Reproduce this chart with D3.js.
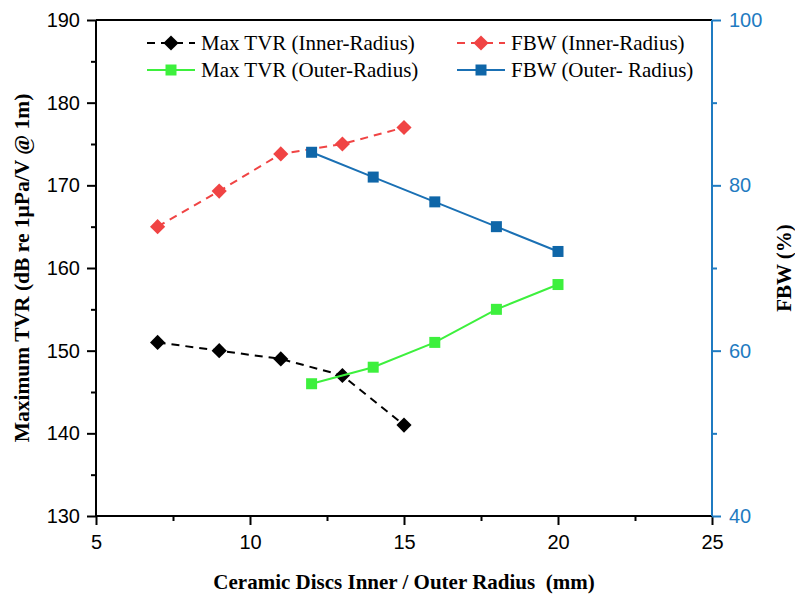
<!DOCTYPE html>
<html>
<head>
<meta charset="utf-8">
<script src="https://cdn.jsdelivr.net/npm/d3@7"></script>
<style>
    body { margin: 0; background: #fff; }
    svg { display: block; }
</style>
</head>
<body>
<svg id="chart"></svg>
<script>
// data
const innerRadius = [7, 9, 11, 13, 15];
const tvrInner = [151, 150, 149, 147, 141];
const fbwInner = [75, 79.3, 83.8, 85, 87];
const outerRadius = [12, 14, 16, 18, 20];
const tvrOuter = [146, 148, 151, 155, 158];
const fbwOuter = [84, 81, 78, 75, 72];

const xTicks = [5, 10, 15, 20, 25];
const yTicks = [130, 140, 150, 160, 170, 180, 190];
const fbwTicks = [40, 60, 80, 100];

const W = 795, H = 598;
const margin = { top: 20, right: 83, bottom: 82, left: 96 };
const width = W - margin.left - margin.right;
const height = H - margin.top - margin.bottom;

const BLUE_AXIS = '#1f7bc1';

const svg = d3.select('#chart').attr('width', W).attr('height', H);
const g = svg.append('g').attr('transform', `translate(${margin.left},${margin.top})`);

const x = d3.scaleLinear().domain([5, 25]).range([0, width]);
const y = d3.scaleLinear().domain([130, 190]).range([height, 0]);
const y2 = d3.scaleLinear().domain([40, 100]).range([height, 0]);

const sans = '"Liberation Sans", Arial, sans-serif';
const serif = '"Liberation Serif", "Times New Roman", serif';

// top frame line
g.append('line')
    .attr('x1', 0).attr('x2', width)
    .attr('y1', 0).attr('y2', 0)
    .attr('stroke', '#000').attr('stroke-width', 2);

function styleAxis(sel, color) {
    sel.select('.domain').remove();
    sel.selectAll('line').attr('stroke', color).attr('stroke-width', 2);
    sel.selectAll('text')
        .attr('fill', color)
        .style('font-family', sans)
        .style('font-size', '20px');
}

// minor ticks
const xMinor = g.append('g').attr('transform', `translate(0,${height})`)
    .call(d3.axisBottom(x).tickValues([7.5, 12.5, 17.5, 22.5]).tickSize(5).tickFormat(''));
styleAxis(xMinor, '#000');
const yMinor = g.append('g')
    .call(d3.axisLeft(y).tickValues([135, 145, 155, 165, 175, 185]).tickSize(5).tickFormat(''));
styleAxis(yMinor, '#000');
const y2Minor = g.append('g').attr('transform', `translate(${width},0)`)
    .call(d3.axisRight(y2).tickValues([50, 70, 90]).tickSize(5).tickFormat(''));
styleAxis(y2Minor, BLUE_AXIS);

// major ticks
const xAxis = g.append('g').attr('transform', `translate(0,${height})`)
    .call(d3.axisBottom(x).tickValues(xTicks).tickSize(9).tickPadding(10));
styleAxis(xAxis, '#000');
const yAxis = g.append('g')
    .call(d3.axisLeft(y).tickValues(yTicks).tickSize(9).tickPadding(7));
styleAxis(yAxis, '#000');
const y2Axis = g.append('g').attr('transform', `translate(${width},0)`)
    .call(d3.axisRight(y2).tickValues(fbwTicks).tickSize(9).tickPadding(8));
styleAxis(y2Axis, BLUE_AXIS);

// spines
g.append('line').attr('x1', 0).attr('x2', width).attr('y1', height).attr('y2', height)
    .attr('stroke', '#000').attr('stroke-width', 2);
g.append('line').attr('x1', 0).attr('x2', 0).attr('y1', 0).attr('y2', height)
    .attr('stroke', '#000').attr('stroke-width', 2);
g.append('line').attr('x1', width).attr('x2', width).attr('y1', 0).attr('y2', height)
    .attr('stroke', BLUE_AXIS).attr('stroke-width', 2);

const series = [
    { name: 'Max TVR (Inner-Radius)', xs: innerRadius, ys: tvrInner, scale: y,
      color: '#000000', line: '#000000', dash: '8,6', diamond: true },
    { name: 'FBW (Inner-Radius)', xs: innerRadius, ys: fbwInner, scale: y2,
      color: '#f04444', line: '#f04444', dash: '8,6', diamond: true },
    { name: 'Max TVR (Outer-Radius)', xs: outerRadius, ys: tvrOuter, scale: y,
      color: '#3df03d', line: '#3df03d', dash: null, diamond: false },
    { name: 'FBW (Outer- Radius)', xs: outerRadius, ys: fbwOuter, scale: y2,
      color: '#0f66a8', line: '#1a70b4', dash: null, diamond: false },
];

// diamonds are squares turned 45 degrees
const squarePath = d3.symbol().type(d3.symbolSquare).size(121)();
const diamondPath = d3.symbol().type(d3.symbolSquare).size(115)();
const markerTransform = (s, px, py) =>
    `translate(${px},${py})` + (s.diamond ? ' rotate(45)' : '');

series.forEach(s => {
    const pts = s.xs.map((v, i) => [v, s.ys[i]]);
    const line = d3.line().x(d => x(d[0])).y(d => s.scale(d[1]));
    g.append('path')
        .datum(pts)
        .attr('d', line)
        .attr('fill', 'none')
        .attr('stroke', s.line)
        .attr('stroke-width', 2)
        .attr('stroke-dasharray', s.dash);
    g.append('g')
        .selectAll('path')
        .data(pts)
        .join('path')
        .attr('d', s.diamond ? diamondPath : squarePath)
        .attr('transform', d => markerTransform(s, x(d[0]), s.scale(d[1])))
        .attr('fill', s.color);
});

// legend
const legendPos = [
    { sx: 147, ty: 43 },
    { sx: 457, ty: 43 },
    { sx: 147, ty: 70 },
    { sx: 457, ty: 70 },
];
series.forEach((s, i) => {
    const p = legendPos[i];
    const lg = svg.append('g').attr('transform', `translate(${p.sx},${p.ty})`);
    lg.append('line')
        .attr('x1', 0).attr('x2', 48)
        .attr('y1', 0).attr('y2', 0)
        .attr('stroke', s.line).attr('stroke-width', 2)
        .attr('stroke-dasharray', s.dash);
    lg.append('path')
        .attr('d', s.diamond ? diamondPath : squarePath)
        .attr('transform', markerTransform(s, 24, 0))
        .attr('fill', s.color);
    lg.append('text')
        .attr('x', 54).attr('y', 0).attr('dy', '0.35em')
        .style('font-family', serif)
        .style('font-size', '21px')
        .text(s.name);
});

// axis titles
svg.append('text')
    .attr('x', margin.left + width / 2).attr('y', 589)
    .attr('text-anchor', 'middle')
    .style('white-space', 'pre')
    .style('font-family', serif).style('font-weight', 'bold').style('font-size', '21px')
    .text('Ceramic Discs Inner / Outer Radius  (mm)');

svg.append('text')
    .attr('transform', `translate(29,${margin.top + height / 2}) rotate(-90)`)
    .attr('text-anchor', 'middle')
    .style('font-family', serif).style('font-weight', 'bold').style('font-size', '21.5px')
    .text('Maximum TVR (dB re 1μPa/V @ 1m)');

svg.append('text')
    .attr('transform', `translate(791,${margin.top + height / 2}) rotate(-90)`)
    .attr('text-anchor', 'middle')
    .style('font-family', serif).style('font-weight', 'bold').style('font-size', '21px')
    .text('FBW (%)');
</script>
</body>
</html>
